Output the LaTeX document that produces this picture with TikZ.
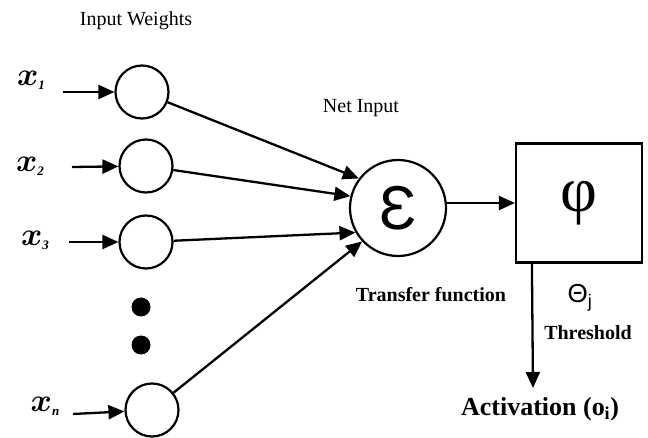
\documentclass[tikz,border=0pt]{standalone}
\usepackage{fontspec}
\setmainfont{Liberation Serif}
\newfontfamily\sansf{Liberation Sans}
\usetikzlibrary{arrows.meta}
\newcommand{\xsub}[1]{\raisebox{-4pt}{\fontsize{13}{13}\selectfont\textbf{\textit{#1}}}}
\newcommand{\xvar}{\scalebox{1.3}{\boldmath$x$}}
\begin{document}
\begin{tikzpicture}[x=1pt,y=-1pt,
  neuron/.style={draw,circle,line width=2.2pt,minimum size=53pt,inner sep=0pt},
  link/.style={line width=2.3pt,-{Triangle[length=16pt,width=14pt]}},
  lbl/.style={font=\fontsize{20}{24}\selectfont,inner sep=0pt},
  blbl/.style={font=\fontsize{20}{24}\selectfont\bfseries,inner sep=0pt},
  xlbl/.style={font=\fontsize{24.88}{30}\selectfont,inner sep=0pt},
  dot/.style={circle,fill,minimum size=19pt,inner sep=0pt}]
\useasboundingbox (0,0) rectangle (648,438);
% input neurons
\node[neuron] (c1) at (142,92) {};
\node[neuron] (c2) at (146,166) {};
\node[neuron] (c3) at (146,242) {};
\node[neuron] (cn) at (152,410) {};
\node[dot] (d1) at (141,307) {};
\node[dot] (d2) at (141,345) {};
% summation and activation
\node[draw,circle,line width=2.2pt,minimum size=96pt,inner sep=0pt,
      font=\fontsize{62}{66}\selectfont\sansf] (eps) at (398,208) {Ɛ};
\node[draw,line width=2.2pt,minimum width=126pt,minimum height=119pt,inner sep=0pt,
      font=\fontsize{64}{68}\selectfont] (box) at (579,203) {φ};
% input labels
\node[xlbl] (x1) at (31,80) {\xvar\xsub{1}};
\node[xlbl] (x2) at (30,166) {\xvar\xsub{2}};
\node[xlbl] (x3) at (35,240) {\xvar\xsub{3}};
\node[xlbl] (xn) at (45,406) {\xvar\xsub{n}};
% input arrows
\coordinate (s1) at (63,92);
\coordinate (s2) at (72,167);
\coordinate (s3) at (69,242);
\coordinate (sn) at (73,414);
\draw[link] (s1) -- (c1);
\draw[link] (s2) -- (c2);
\draw[link] (s3) -- (c3);
\draw[link] (sn) -- (cn);
% weighted links
\draw[link] (c1) -- (eps.143);
\draw[link] (c2) -- (eps.166);
\draw[link] (c3) -- (eps.210);
\draw[link] (cn) -- (eps.223);
\draw[link] (eps.east |- box.west) -- (box.west);
\coordinate (acttip) at (533,388);
\draw[link] ([xshift=17pt]box.south west) -- (acttip);
% texts
\node[lbl] (iw) at (136,21) {Input Weights};
\node[lbl] (ni) at (361,108) {Net Input};
\node[blbl] (tf) at (431,295) {Transfer function};
\node[blbl] (th) at (588,333) {Threshold};
\node[inner sep=0pt,font=\fontsize{26}{30}\selectfont\sansf] (theta) at (580,298) {Θ\textsubscript{j}};
\node[inner sep=0pt,font=\fontsize{26}{30}\selectfont\bfseries] (act) at (540,409) {Activation (o\textsubscript{i})};
\end{tikzpicture}
\end{document}
